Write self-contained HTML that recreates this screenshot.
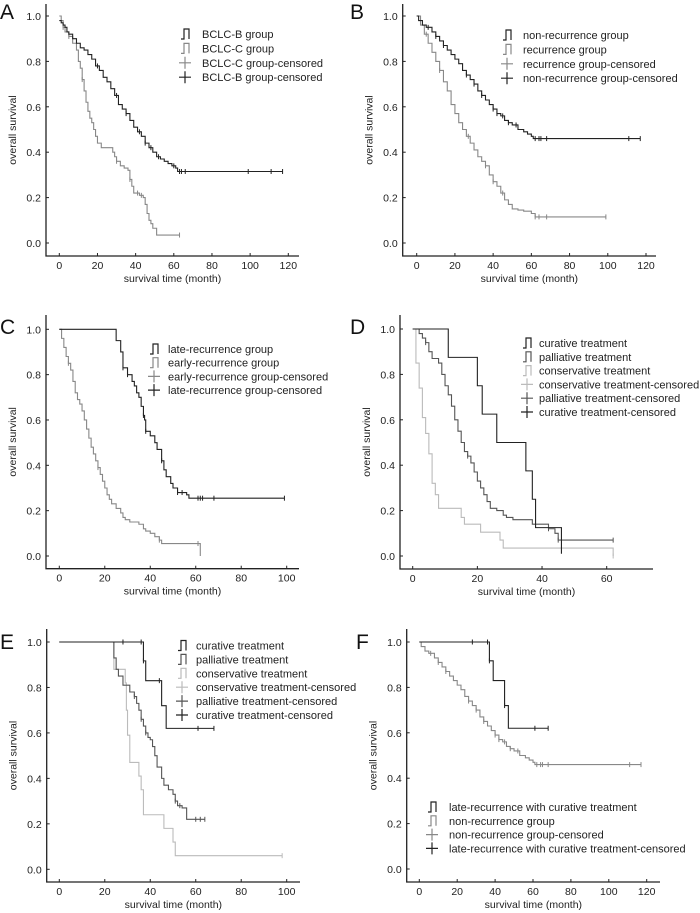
<!DOCTYPE html>
<html><head><meta charset="utf-8"><style>
html,body{margin:0;padding:0;background:#fff;}
svg{display:block;font-family:"Liberation Sans",Arial,sans-serif;}
</style></head><body>
<svg id="fig" width="700" height="913" viewBox="0 0 700 913" xmlns="http://www.w3.org/2000/svg"></svg>
<script>
// ---- Panel A data ----
const aBTimes=[0,1,2,3,4,5,7,9,11,13,15,17,19,21,23,25,27,29,31,33,35,37,39,41,43,45,47,49,51,53,55,57,59,61,62,117];
const aBSurv=[0.98,0.97,0.96,0.95,0.93,0.92,0.9,0.88,0.86,0.85,0.83,0.81,0.78,0.76,0.73,0.71,0.68,0.65,0.61,0.59,0.57,0.54,0.51,0.49,0.47,0.44,0.42,0.4,0.38,0.37,0.36,0.35,0.34,0.33,0.315,0.315];
const aBCens=[20,30,35,42,45,48,52,60,63,64,66,99,111,117];
const aCTimes=[0,1,2,3,5,7,9,10,11,12,13,14,15,16,17,18,19,20,22,28,29,30,32,34,36,37,38,39,42,44,45,46,47,48,49,51,63];
const aCSurv=[1.0,0.98,0.95,0.93,0.91,0.88,0.85,0.8,0.77,0.72,0.67,0.62,0.58,0.55,0.53,0.5,0.47,0.44,0.42,0.4,0.38,0.36,0.34,0.33,0.32,0.28,0.25,0.22,0.21,0.2,0.17,0.13,0.1,0.085,0.065,0.035,0.035];
const aCCens=[2,5,12,30,37,41,43,63];
// ---- Panel B data ----
const bNTimes=[0,1,3,5,8,10,12,14,16,18,20,22,24,26,28,30,32,34,36,38,40,42,44,46,48,50,53,56,58,60,61,117];
const bNSurv=[1.0,0.98,0.96,0.95,0.93,0.91,0.89,0.87,0.85,0.83,0.81,0.79,0.76,0.74,0.72,0.7,0.67,0.65,0.63,0.61,0.59,0.57,0.56,0.54,0.53,0.52,0.5,0.49,0.48,0.47,0.46,0.46];
const bNCens=[6,10,14,26,30,34,40,42,45,48,52,62,64,65,68,111,117];
const bRTimes=[0,2,4,6,8,10,12,14,16,18,20,22,24,26,28,30,32,34,36,38,40,42,44,46,48,50,53,56,60,62,99];
const bRSurv=[1.0,0.96,0.92,0.88,0.84,0.8,0.76,0.71,0.67,0.61,0.57,0.53,0.5,0.47,0.44,0.41,0.38,0.36,0.34,0.3,0.27,0.25,0.22,0.19,0.17,0.15,0.145,0.14,0.13,0.115,0.115];
const bRCens=[5,12,27,36,40,45,62,64,68,99];
// ---- Panel C data ----
const cLTimes=[0,24,25,27,28,30,32,33,34,35,36,37,37.5,38,40,42,43,45,46,47,49,50,52,54,56,57,99];
const cLSurv=[1.0,1.0,0.95,0.9,0.83,0.8,0.77,0.75,0.72,0.7,0.66,0.62,0.6,0.55,0.53,0.5,0.47,0.42,0.38,0.35,0.32,0.3,0.28,0.28,0.27,0.255,0.255];
const cLCens=[28,30,37,38,45,52,54,61,62,63,68,99];
const cETimes=[0,1,2,3,4,5,6,7,8,9,10,11,12,13,14,15,16,17,18,19,20,21,22,23,25,27,28,29,31,35,37,38,40,42,44,45,62];
const cESurv=[1.0,0.96,0.92,0.88,0.85,0.82,0.77,0.72,0.69,0.67,0.64,0.6,0.56,0.52,0.48,0.45,0.42,0.39,0.36,0.33,0.3,0.27,0.25,0.23,0.21,0.19,0.17,0.16,0.15,0.14,0.12,0.11,0.1,0.085,0.07,0.055,0.0];
const cECens=[4,17,44,61];
// ---- Panel D data ----
const dCurTimes=[0,11,20,21.5,26,35,37,38,46,46];
const dCurSurv=[1.0,0.875,0.75,0.625,0.5,0.375,0.25,0.125,0.01,0.01];
const dCurCens=[];
const dPalTimes=[0,2,3,4,5,6,8,9,10,11,12,13,14,15,16,17,18,19,20,21,22,23,24,26,28,29,31,37,42,44,45,62];
const dPalSurv=[1.0,0.98,0.96,0.94,0.9,0.87,0.85,0.8,0.75,0.71,0.66,0.6,0.55,0.5,0.46,0.44,0.41,0.37,0.33,0.3,0.27,0.24,0.21,0.2,0.18,0.17,0.16,0.14,0.12,0.1,0.07,0.07];
const dPalCens=[4,17,42,45,62];
const dConTimes=[0,1,2,3,4,5,6,7,8,15,16,21,27,28,62,62];
const dConSurv=[1.0,0.85,0.74,0.61,0.54,0.45,0.32,0.27,0.21,0.17,0.14,0.105,0.07,0.035,0.0,0.0];
const dConCens=[62];
// ---- Panel E data ----
const eCurTimes=[0,37,38,45,47,68];
const eCurSurv=[1.0,0.917,0.83,0.72,0.62,0.62];
const eCurCens=[28,36,37,44,61,68];
const ePalTimes=[0,24,25,26,28,31,33,34,35,36,37,38,39,40,41,42,43,45,46,48,50,51,52,54,56,64];
const ePalSurv=[1.0,0.93,0.88,0.85,0.81,0.78,0.76,0.73,0.7,0.66,0.63,0.6,0.58,0.57,0.54,0.5,0.45,0.4,0.37,0.35,0.33,0.3,0.28,0.27,0.22,0.22];
const ePalCens=[33,36,38,51,53,60,62,64];
const eConTimes=[0,24,29,29.5,30,31,35,36,37,46,50,51,98];
const eConSurv=[1.0,0.88,0.82,0.7,0.59,0.47,0.41,0.35,0.24,0.18,0.12,0.06,0.06];
const eConCens=[98];
// ---- Panel F data ----
const fCurTimes=[0,37,39,45,47,68];
const fCurSurv=[1.0,0.917,0.83,0.72,0.62,0.62];
const fCurCens=[28,36,37,45,61,68];
const fNTimes=bNTimes;
const fNSurv=bNSurv;
const fNCens=bNCens;

const yTicks=[0,0.2,0.4,0.6,0.8,1.0];
const yTickLabels=["0.0","0.2","0.4","0.6","0.8","1.0"];
const xTicksA=[0,20,40,60,80,100,120];
const xTicksC=[0,20,40,60,80,100];
const xTicksD=[0,20,40,60];

const NS="http://www.w3.org/2000/svg";
const svg=document.getElementById('fig');
function mk(tag,attrs,parent){const e=document.createElementNS(NS,tag);for(const k in attrs)e.setAttribute(k,attrs[k]);(parent||svg).appendChild(e);return e;}
function stepAt(ts,ss,t){let v=ss[0];for(let i=0;i<ts.length;i++){if(ts[i]<=t)v=ss[i];}return v;}

function panel(P){
  const g=mk('g',{});
  
  
  const X=t=>P.x0+(t/P.xMax)*(P.x1-P.x0);
  const Y=s=>P.y0-s*(P.y0-P.y1);
  const lt=mk('text',{x:P.lx,y:P.ly,'font-size':21,fill:'#111'},g);lt.textContent=P.id;
  
  
  const ax=mk('path',{d:`M${P.ax},${P.top} V${P.axy} H${P.right}`,stroke:'#222','stroke-width':1.3,fill:'none'},g);
  
  
  yTicks.forEach((v,i)=>{
    mk('line',{x1:P.ax,x2:P.ax+3,y1:Y(v),y2:Y(v),stroke:'#222','stroke-width':1},g);
    const t=mk('text',{x:P.ax-5,y:Y(v)+4,'font-size':10.5,'text-anchor':'end',fill:'#222'},g);t.textContent=yTickLabels[i];
    
    
  });
  P.xt.forEach(v=>{
    mk('line',{x1:X(v),x2:X(v),y1:P.axy,y2:P.axy-3,stroke:'#222','stroke-width':1},g);
    const t=mk('text',{x:X(v),y:P.axy+13,'font-size':10.5,'text-anchor':'middle',fill:'#222'},g);t.textContent=v;
    
    
  });
  const xt=mk('text',{x:(P.ax+P.right)/2,y:P.axy+26,'font-size':10.5,'text-anchor':'middle',fill:'#222'},g);xt.textContent='survival time (month)';
  
  
  const cy=(P.top+P.axy)/2;
  const yt=mk('text',{x:P.ax-30,y:cy,'font-size':10.5,'text-anchor':'middle',fill:'#222',transform:`rotate(-90 ${P.ax-30} ${cy})`},g);yt.textContent='overall survival';
  
  
  P.series.forEach(S=>{
    let d=`M${X(S.t[0])},${Y(S.s[0])}`;
    for(let i=1;i<S.t.length;i++){d+=` H${X(S.t[i])} V${Y(S.s[i])}`;}
    const p=mk('path',{d:d,stroke:S.c,'stroke-width':1.1,fill:'none'},g);
    
    
    S.cens.forEach(ct=>{
      const l=mk('line',{x1:X(ct),x2:X(ct),y1:Y(stepAt(S.t,S.s,ct))-2.5,y2:Y(stepAt(S.t,S.s,ct))+2.5,stroke:S.c,'stroke-width':1},g);
      
      
    });
  });
  P.legend.forEach((L,i)=>{
    const y=P.legY+i*P.legDy;
    const lg=mk('g',{},g);
    
    
    if(L.k==='line'){mk('path',{d:`M${P.legX},${y+5} h3 v-10 h5 v10`,stroke:L.c,'stroke-width':1.2,fill:'none'},lg);}
    else{mk('path',{d:`M${P.legX+4},${y-6} v12 M${P.legX-2},${y} h12`,stroke:L.c,'stroke-width':1.2,fill:'none'},lg);}
    const t=mk('text',{x:P.legX+P.legTx,y:y+4,'font-size':11,fill:'#222'},lg);t.textContent=L.label;
  });
}
const BK='#222',G='#888',DG='#555',LG='#bbb';
panel({id:'A',lx:0,ly:19,ax:46,top:4,axy:256,right:299,x0:59.3,x1:288.3,xMax:120,y0:243,y1:16,xt:xTicksA,
  series:[{name:'bclc-c',t:aCTimes,s:aCSurv,cens:aCCens,c:G},{name:'bclc-b',t:aBTimes,s:aBSurv,cens:aBCens,c:BK}],
  legX:181,legY:34,legDy:14.4,legTx:21,
  legend:[{k:'line',c:BK,label:'BCLC-B group'},{k:'line',c:G,label:'BCLC-C group'},{k:'plus',c:G,label:'BCLC-C group-censored'},{k:'plus',c:BK,label:'BCLC-B group-censored'}]});
panel({id:'B',lx:350,ly:19,ax:402.7,top:4,axy:256,right:656,x0:416.7,x1:646,xMax:120,y0:243,y1:16,xt:xTicksA,
  series:[{name:'recurrence',t:bRTimes,s:bRSurv,cens:bRCens,c:G},{name:'non-recurrence',t:bNTimes,s:bNSurv,cens:bNCens,c:BK}],
  legX:503,legY:35,legDy:14.4,legTx:20,
  legend:[{k:'line',c:BK,label:'non-recurrence group'},{k:'line',c:G,label:'recurrence group'},{k:'plus',c:G,label:'recurrence group-censored'},{k:'plus',c:BK,label:'non-recurrence group-censored'}]});
panel({id:'C',lx:0,ly:334,ax:46,top:315,axy:568.7,right:299,x0:59.3,x1:286.7,xMax:100,y0:556,y1:329.3,xt:xTicksC,
  series:[{name:'early-recurrence',t:cETimes,s:cESurv,cens:cECens,c:G},{name:'late-recurrence',t:cLTimes,s:cLSurv,cens:cLCens,c:BK}],
  legX:150,legY:349,legDy:13.7,legTx:18,
  legend:[{k:'line',c:BK,label:'late-recurrence group'},{k:'line',c:G,label:'early-recurrence group'},{k:'plus',c:G,label:'early-recurrence group-censored'},{k:'plus',c:BK,label:'late-recurrence group-censored'}]});
panel({id:'D',lx:350,ly:334,ax:400,top:315,axy:569,right:653,x0:412.7,x1:606.7,xMax:60,y0:556,y1:329,xt:xTicksD,
  series:[{name:'conservative',t:dConTimes,s:dConSurv,cens:dConCens,c:LG},{name:'palliative',t:dPalTimes,s:dPalSurv,cens:dPalCens,c:DG},{name:'curative',t:dCurTimes,s:dCurSurv,cens:dCurCens,c:BK}],
  legX:523,legY:343,legDy:13.8,legTx:16,
  legend:[{k:'line',c:BK,label:'curative treatment'},{k:'line',c:DG,label:'palliative treatment'},{k:'line',c:LG,label:'conservative treatment'},{k:'plus',c:LG,label:'conservative treatment-censored'},{k:'plus',c:DG,label:'palliative treatment-censored'},{k:'plus',c:BK,label:'curative treatment-censored'}]});
panel({id:'E',lx:0,ly:649,ax:46.7,top:629,axy:882,right:300,x0:59.3,x1:286.7,xMax:100,y0:869.3,y1:642,xt:xTicksC,
  series:[{name:'conservative',t:eConTimes,s:eConSurv,cens:eConCens,c:LG},{name:'palliative',t:ePalTimes,s:ePalSurv,cens:ePalCens,c:DG},{name:'curative',t:eCurTimes,s:eCurSurv,cens:eCurCens,c:BK}],
  legX:178,legY:645.5,legDy:13.9,legTx:18,
  legend:[{k:'line',c:BK,label:'curative treatment'},{k:'line',c:DG,label:'palliative treatment'},{k:'line',c:LG,label:'conservative treatment'},{k:'plus',c:LG,label:'conservative treatment-censored'},{k:'plus',c:DG,label:'palliative treatment-censored'},{k:'plus',c:BK,label:'curative treatment-censored'}]});
panel({id:'F',lx:356,ly:649,ax:406.7,top:629,axy:882,right:660,x0:419.3,x1:646.7,xMax:120,y0:869,y1:642,xt:xTicksA,
  series:[{name:'non-recurrence',t:fNTimes,s:fNSurv,cens:fNCens,c:G},{name:'late-recurrence-curative',t:fCurTimes,s:fCurSurv,cens:fCurCens,c:BK}],
  legX:428,legY:807,legDy:13.8,legTx:21,
  legend:[{k:'line',c:BK,label:'late-recurrence with curative treatment'},{k:'line',c:G,label:'non-recurrence group'},{k:'plus',c:G,label:'non-recurrence group-censored'},{k:'plus',c:BK,label:'late-recurrence with curative treatment-censored'}]});
</script>
</body></html>
